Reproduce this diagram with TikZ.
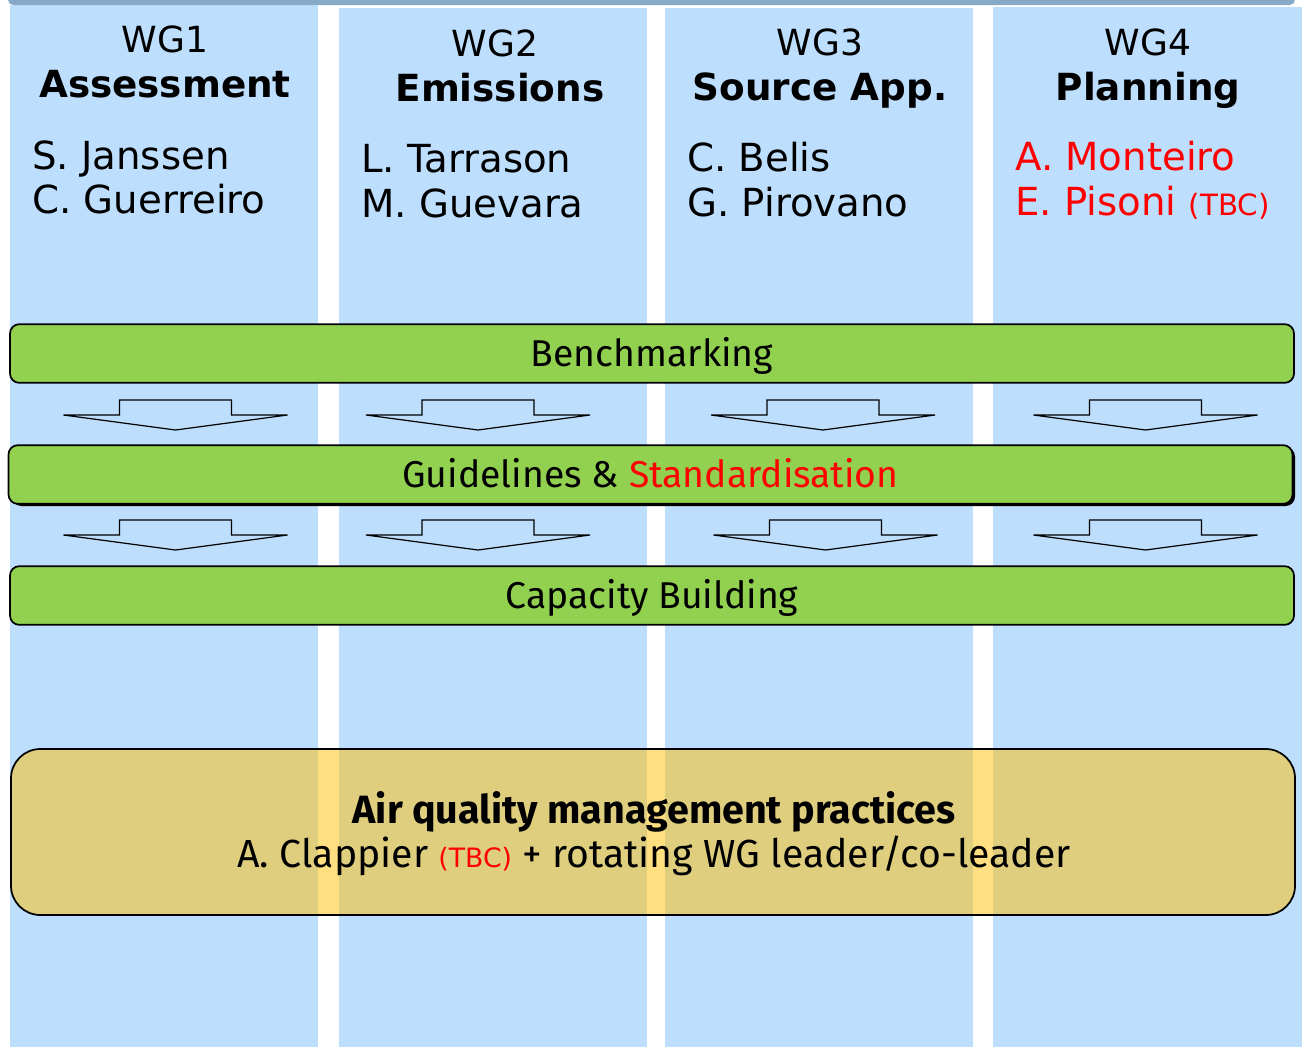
\documentclass[tikz,border=0pt]{standalone}
\usepackage{fontspec}
\setmainfont{DejaVu Sans}
\newfontfamily\comic{Fira Sans}
\definecolor{colblue}{RGB}{189,222,253}
\definecolor{bargreen}{RGB}{146,208,80}
\definecolor{topbar}{RGB}{135,169,200}
\definecolor{aqm}{RGB}{255,192,0}
\definecolor{tbcred}{RGB}{255,0,0}
\tikzset{
  hdr/.style={anchor=base, inner sep=0pt, font=\fontsize{27}{32}\selectfont},
  hdrb/.style={anchor=base, inner sep=0pt, font=\fontsize{28}{32}\selectfont\bfseries},
  person/.style={anchor=base west, inner sep=0pt, font=\fontsize{29}{33}\selectfont},
  bar/.style={draw=black, line width=1.3pt, fill=bargreen, rounded corners=7pt,
     minimum width=963pt, minimum height=44pt, inner sep=0pt,
     text height=23.7pt, text depth=4.3pt,
     font=\comic\fontsize{28}{32}\selectfont},
  bigbox/.style={draw=black, line width=1.3pt, fill=aqm, fill opacity=0.5, text opacity=1,
     rounded corners=22pt, minimum width=963pt, minimum height=124.5pt, inner sep=0pt},
  boxtext/.style={inner sep=0pt, font=\comic\fontsize{29.4}{33}\selectfont},
  blockarrow/.pic={
    \draw[line width=0.9pt, fill=colblue, line join=miter]
      (-112,15) -- (-56,15) -- (-56,0) -- (56,0) -- (56,15) -- (112,15) -- (0,30) -- cycle;
  }
}
\begin{document}
\begin{tikzpicture}[x=0.75pt,y=-0.75pt]
\useasboundingbox (0,0) rectangle (1302,1047);
\fill[white] (0,0) rectangle (1302,1047);
\begin{scope}
\clip (0,0) rectangle (1302,1047);
% columns
\fill[colblue] (10,5) rectangle (318,1047);
\fill[colblue] (339,8) rectangle (647,1047);
\fill[colblue] (665,8) rectangle (973,1047);
\fill[colblue] (993,7) rectangle (1302,1047);
% top bar
\fill[topbar, rounded corners=4pt] (8,-12) rectangle (1295,5);
\end{scope}

% headers
\node[hdr]  (wg1)  at (165,52)  {WG1};
\node[hdrb] (wg1t) at (165,97)  {Assessment};
\node[hdr]  (wg2)  at (495,56)  {WG2};
\node[hdrb] (wg2t) at (500,101) {Emissions};
\node[hdr]  (wg3)  at (820,55)  {WG3};
\node[hdrb] (wg3t) at (820,100) {Source App.};
\node[hdr]  (wg4)  at (1148,55) {WG4};
\node[hdrb] (wg4t) at (1148,100) {Planning};

% people
\node[person] (p11) at (32,169)  {S. Janssen};
\node[person] (p12) at (32,213)  {C. Guerreiro};
\node[person] (p21) at (361,172) {L. Tarrason};
\node[person] (p22) at (361,217) {M. Guevara};
\node[person] (p31) at (687,171) {C. Belis};
\node[person] (p32) at (687,216) {G. Pirovano};
\node[person, text=tbcred] (p41) at (1015,170) {A. Monteiro};
\node[person, text=tbcred] (p42) at (1015,215) {E. Pisoni {\fontsize{22}{26}\selectfont (TBC)}};

% bars
\node[bar] (bench) at (652,353.5) {Benchmarking};
\fill[black] (12,447) [rounded corners=7pt] rectangle (1295,506);
\node[bar] (guide) at (650.5,474.5) {Guidelines \& \textcolor{tbcred}{Standardisation}};
\node[bar] (cap) at (652,595.5) {Capacity Building};

% arrows
\pic (a11) at (175.5,400) {blockarrow};
\pic (a12) at (478,400) {blockarrow};
\pic (a13) at (823,400) {blockarrow};
\pic (a14) at (1145.5,400) {blockarrow};
\pic (a21) at (175.5,520) {blockarrow};
\pic (a22) at (478,520) {blockarrow};
\pic (a23) at (825.5,520) {blockarrow};
\pic (a24) at (1145.5,520) {blockarrow};

% bottom box
\node[bigbox] (aqmbox) at (653,832) {};
\node[boxtext, font=\comic\fontsize{29.6}{33}\selectfont\bfseries] (aqmt) at (654,812) {Air quality management practices};
\node[boxtext] (aqml) at (654,856) {A. Clappier {\rmfamily\color{tbcred}\fontsize{20}{24}\selectfont (TBC)} + rotating WG leader/co-leader};
\end{tikzpicture}
\end{document}
